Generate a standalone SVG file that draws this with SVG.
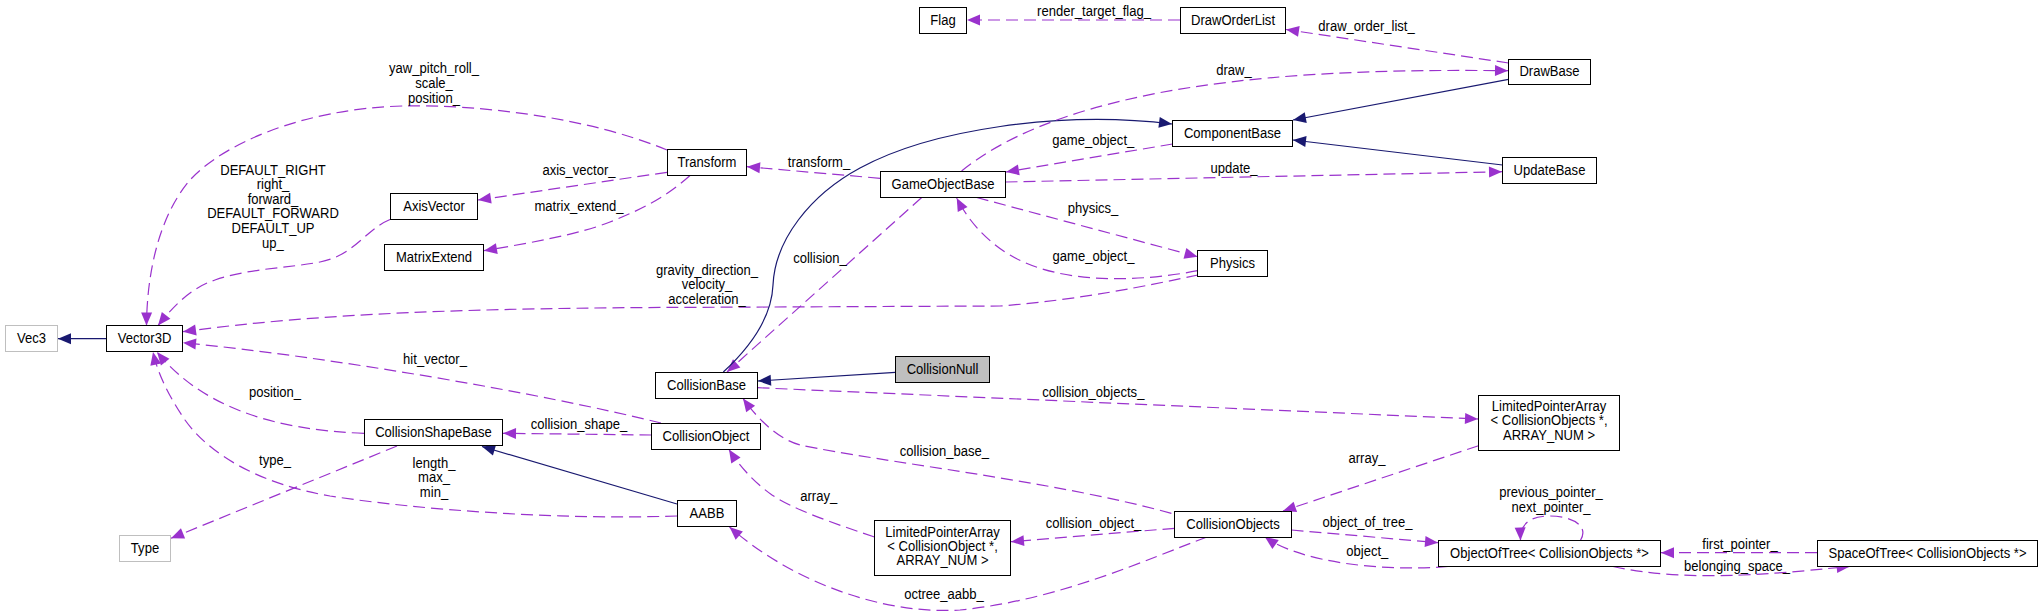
<svg xmlns="http://www.w3.org/2000/svg" width="2043" height="616" viewBox="0 0 2043 616">
<style>
text{font-family:"Liberation Sans",Arial,sans-serif;font-size:14.5px;text-anchor:middle;fill:#000}
.n rect{fill:#fff;stroke:#000;stroke-width:1}
.g rect{stroke:#bfbfbf}
.cn rect{fill:#bfbfbf}
.d{fill:none;stroke:#9a32cd;stroke-width:1.2;stroke-dasharray:12 6;marker-end:url(#ap)}
.s{fill:none;stroke:#191970;stroke-width:1.2;marker-end:url(#an)}
</style>
<defs>
<marker id="ap" markerUnits="userSpaceOnUse" markerWidth="14" markerHeight="12" refX="13" refY="5.5" orient="auto" overflow="visible"><path d="M0,0 L13,5.5 L0,11 z" fill="#9a32cd"/></marker>
<marker id="an" markerUnits="userSpaceOnUse" markerWidth="14" markerHeight="12" refX="13" refY="5.5" orient="auto" overflow="visible"><path d="M0,0 L13,5.5 L0,11 z" fill="#191970"/></marker>
</defs>
<rect width="2043" height="616" fill="#fff"/>
<g id="connectors">
<path class="s" d="M106.5,338.7 L58,338.7"/>
<path class="d" d="M667,150 C590,118 480,104 402,106 C300,109 222,145 190,180 C160,215 147,270 146.5,325.5"/>
<path class="d" d="M667,172.3 L478,200"/>
<path class="d" d="M690,175.5 C665,198 640,210 610,222 C580,234 530,243 484,250.7"/>
<path class="d" d="M390,219.5 C365,230 355,255 320,262 C290,268 250,268 215,280 C190,288 172,308 158,325.5"/>
<path class="d" d="M1198,275 C1150,285 1080,300 1000,306 L700,307.3 C470,308 320,313 183,331.7"/>
<path class="d" d="M661,423 C540,393 330,357 183,342.7"/>
<path class="d" d="M364,433.3 C270,430 200,405 157,352"/>
<path class="d" d="M677,516 C560,520 420,510 330,496 C260,484 210,455 185,420 C170,398 158,375 153,352"/>
<path class="d" d="M397,446 L171,538.3"/>
<path class="s" d="M677,504 L482,446.5"/>
<path class="d" d="M651.5,435 L503,433.3"/>
<path class="d" d="M880,178.3 L747,166.7"/>
<path class="d" d="M921.7,197.5 L727,372"/>
<path class="s" d="M723.3,372 C760,338 772,310 773,285 C775,240 810,195 860,168 C930,130 1060,110 1172,124"/>
<path class="d" d="M1172.5,144 L1006,172"/>
<path class="d" d="M961.6,171 C1000,140 1060,112 1158,93 C1250,76 1350,69 1508,70.7"/>
<path class="d" d="M1005.5,182 L1502,171.7"/>
<path class="s" d="M1508.5,79.3 L1293,120"/>
<path class="s" d="M1502.5,165 L1293,140"/>
<path class="d" d="M1180,20 L967,20"/>
<path class="d" d="M1508.5,63 L1286,29.5"/>
<path class="d" d="M976.7,197.5 L1197.5,256.7"/>
<path class="d" d="M1197.5,270.7 C1140,282 1060,285 1010,255 C985,240 968,220 956.7,198"/>
<path class="s" d="M895.5,372.3 L758,381"/>
<path class="d" d="M757.5,387.7 L1478,419"/>
<path class="d" d="M1171.4,513.3 C1050,480 880,462 800,445 C775,438 755,415 743,398.5"/>
<path class="d" d="M874.5,537 C830,522 795,510 772,495 C755,483 740,467 729,449.5"/>
<path class="d" d="M1174.5,528.3 L1011,541.7"/>
<path class="d" d="M1207,537 C1150,558 1060,600 960,610 C880,615 790,580 729.5,527"/>
<path class="d" d="M1478.5,445.7 L1283,511"/>
<path class="d" d="M1291.5,530 L1438,542.7"/>
<path class="d" d="M1448,566.5 C1380,572 1300,562 1265,537"/>
<path class="d" d="M1580.4,540.5 C1590,525 1570,516 1550,516 C1532,516 1520,522 1520.5,540.5"/>
<path class="d" d="M1817,552.7 L1661,552.7"/>
<path class="d" d="M1613,566.5 C1650,575 1700,577 1742,575 C1790,573 1820,569 1849.7,566.5"/>
<text transform="matrix(.9 0 0 1 434 73)">yaw_pitch_roll_<tspan x="0" dy="15">scale_</tspan><tspan x="0" dy="15">position_</tspan></text>
<text transform="matrix(.9 0 0 1 273 174.7)">DEFAULT_RIGHT<tspan x="0" dy="14.6">right_</tspan><tspan x="0" dy="14.6">forward_</tspan><tspan x="0" dy="14.6">DEFAULT_FORWARD</tspan><tspan x="0" dy="14.6">DEFAULT_UP</tspan><tspan x="0" dy="14.6">up_</tspan></text>
<text transform="matrix(.9 0 0 1 579 174.7)">axis_vector_</text>
<text transform="matrix(.9 0 0 1 579 210.7)">matrix_extend_</text>
<text transform="matrix(.9 0 0 1 1094 16)">render_target_flag_</text>
<text transform="matrix(.9 0 0 1 1366.5 31)">draw_order_list_</text>
<text transform="matrix(.9 0 0 1 1234 74.7)">draw_</text>
<text transform="matrix(.9 0 0 1 1093.3 145)">game_object_</text>
<text transform="matrix(.9 0 0 1 819 166.7)">transform_</text>
<text transform="matrix(.9 0 0 1 1234 173)">update_</text>
<text transform="matrix(.9 0 0 1 1093 213.3)">physics_</text>
<text transform="matrix(.9 0 0 1 1093.5 260.8)">game_object_</text>
<text transform="matrix(.9 0 0 1 820 262.7)">collision_</text>
<text transform="matrix(.9 0 0 1 707 274.7)">gravity_direction_<tspan x="0" dy="14.5">velocity_</tspan><tspan x="0" dy="14.5">acceleration_</tspan></text>
<text transform="matrix(.9 0 0 1 435 364)">hit_vector_</text>
<text transform="matrix(.9 0 0 1 275 397)">position_</text>
<text transform="matrix(.9 0 0 1 579 429)">collision_shape_</text>
<text transform="matrix(.9 0 0 1 275 465.3)">type_</text>
<text transform="matrix(.9 0 0 1 434 468)">length_<tspan x="0" dy="14.5">max_</tspan><tspan x="0" dy="14.5">min_</tspan></text>
<text transform="matrix(.9 0 0 1 1093.3 396.7)">collision_objects_</text>
<text transform="matrix(.9 0 0 1 944.4 456)">collision_base_</text>
<text transform="matrix(.9 0 0 1 818.75 501.3)">array_</text>
<text transform="matrix(.9 0 0 1 1093.5 527.5)">collision_object_</text>
<text transform="matrix(.9 0 0 1 944 598.7)">octree_aabb_</text>
<text transform="matrix(.9 0 0 1 1367 463)">array_</text>
<text transform="matrix(.9 0 0 1 1551 496.7)">previous_pointer_<tspan x="0" dy="15">next_pointer_</tspan></text>
<text transform="matrix(.9 0 0 1 1367.5 526.7)">object_of_tree_</text>
<text transform="matrix(.9 0 0 1 1367.3 556)">object_</text>
<text transform="matrix(.9 0 0 1 1740 549)">first_pointer_</text>
<text transform="matrix(.9 0 0 1 1737 570.7)">belonging_space_</text>
</g>
<g id="Flag" class="n"><rect x="919.5" y="7.5" width="47" height="26"/><text transform="matrix(.9 0 0 1 943 24.8)">Flag</text></g>
<g id="DrawOrderList" class="n"><rect x="1180.5" y="7.5" width="105" height="26"/><text transform="matrix(.9 0 0 1 1233 24.8)">DrawOrderList</text></g>
<g id="DrawBase" class="n"><rect x="1508.5" y="59.5" width="82" height="25"/><text transform="matrix(.9 0 0 1 1549.5 76.3)">DrawBase</text></g>
<g id="ComponentBase" class="n"><rect x="1172.5" y="120.5" width="120" height="26"/><text transform="matrix(.9 0 0 1 1232.5 137.8)">ComponentBase</text></g>
<g id="UpdateBase" class="n"><rect x="1502.5" y="157.5" width="94" height="26"/><text transform="matrix(.9 0 0 1 1549.5 174.8)">UpdateBase</text></g>
<g id="Transform" class="n"><rect x="667.5" y="149.5" width="79" height="26"/><text transform="matrix(.9 0 0 1 707 166.8)">Transform</text></g>
<g id="GameObjectBase" class="n"><rect x="880.5" y="171.5" width="125" height="26"/><text transform="matrix(.9 0 0 1 943 188.8)">GameObjectBase</text></g>
<g id="AxisVector" class="n"><rect x="390.5" y="193.5" width="87" height="26"/><text transform="matrix(.9 0 0 1 434 210.8)">AxisVector</text></g>
<g id="MatrixExtend" class="n"><rect x="384.5" y="244.5" width="99" height="26"/><text transform="matrix(.9 0 0 1 434 261.8)">MatrixExtend</text></g>
<g id="Physics" class="n"><rect x="1197.5" y="250.5" width="70" height="26"/><text transform="matrix(.9 0 0 1 1232.5 267.8)">Physics</text></g>
<g id="Vec3" class="n g"><rect x="5.5" y="325.5" width="52" height="26"/><text transform="matrix(.9 0 0 1 31.5 342.8)">Vec3</text></g>
<g id="Vector3D" class="n"><rect x="106.5" y="325.5" width="76" height="26"/><text transform="matrix(.9 0 0 1 144.5 342.8)">Vector3D</text></g>
<g id="CollisionNull" class="n cn"><rect x="895.5" y="356.5" width="94" height="26"/><text transform="matrix(.9 0 0 1 942.5 373.8)">CollisionNull</text></g>
<g id="CollisionBase" class="n"><rect x="655.5" y="372.5" width="102" height="26"/><text transform="matrix(.9 0 0 1 706.5 389.8)">CollisionBase</text></g>
<g id="LimitedPointerArrayCollisionObjects" class="n"><rect x="1478.5" y="395.5" width="141" height="55"/><text transform="matrix(.9 0 0 1 1549 411)">LimitedPointerArray<tspan x="0" dy="14.5">&lt; CollisionObjects *,</tspan><tspan x="0" dy="14.5">ARRAY_NUM &gt;</tspan></text></g>
<g id="CollisionObject" class="n"><rect x="651.5" y="423.5" width="109" height="26"/><text transform="matrix(.9 0 0 1 706 440.8)">CollisionObject</text></g>
<g id="CollisionShapeBase" class="n"><rect x="364.5" y="419.5" width="138" height="26"/><text transform="matrix(.9 0 0 1 433.5 436.8)">CollisionShapeBase</text></g>
<g id="AABB" class="n"><rect x="677.5" y="500.5" width="59" height="26"/><text transform="matrix(.9 0 0 1 707 517.8)">AABB</text></g>
<g id="CollisionObjects" class="n"><rect x="1174.5" y="511.5" width="117" height="26"/><text transform="matrix(.9 0 0 1 1233 528.8)">CollisionObjects</text></g>
<g id="LimitedPointerArrayCollisionObject" class="n"><rect x="874.5" y="520.5" width="136" height="55"/><text transform="matrix(.9 0 0 1 942.5 536.5)">LimitedPointerArray<tspan x="0" dy="14.5">&lt; CollisionObject *,</tspan><tspan x="0" dy="14.5">ARRAY_NUM &gt;</tspan></text></g>
<g id="ObjectOfTree" class="n"><rect x="1438.5" y="540.5" width="222" height="26"/><text transform="matrix(.9 0 0 1 1549.5 557.8)">ObjectOfTree&lt; CollisionObjects *&gt;</text></g>
<g id="SpaceOfTree" class="n"><rect x="1817.5" y="540.5" width="220" height="26"/><text transform="matrix(.9 0 0 1 1927.5 557.8)">SpaceOfTree&lt; CollisionObjects *&gt;</text></g>
<g id="Type" class="n g"><rect x="119.5" y="535.5" width="51" height="26"/><text transform="matrix(.9 0 0 1 145 552.8)">Type</text></g>
</svg>
